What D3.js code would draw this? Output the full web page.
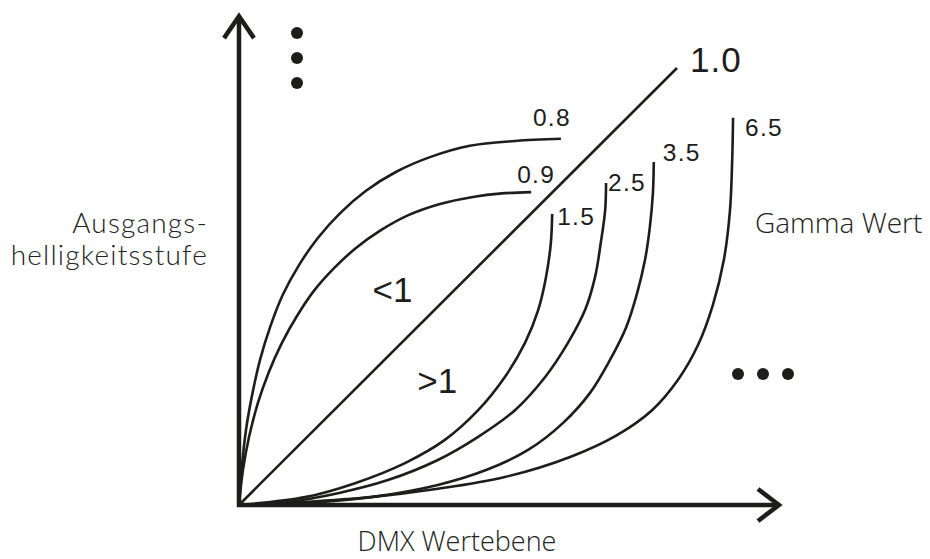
<!DOCTYPE html>
<html>
<head>
<meta charset="utf-8">
<script src="https://cdn.jsdelivr.net/npm/d3@7/dist/d3.min.js"></script>
<style>
  html, body { margin: 0; padding: 0; background: #fff; }
  svg { display: block; }
</style>
</head>
<body>
<svg id="chart" width="930" height="559"></svg>
<script>
// ---------- data (x: DMX level in %, y: output brightness in %) ----------
const gammaLabels = ["0.8", "0.9", "1.0", "1.5", "2.5", "3.5", "6.5"];

const curve08 = [[0,0],[0.7,9.2],[1.6,17.2],[3.0,25.2],[4.8,33.2],[7.1,40.7],[10.0,48.1],[13.7,54.9],[18.0,61.1],[23.1,66.8],[29.0,71.9],[35.8,76.2],[43.6,79.6],[52.7,82.2],[63.0,83.3],[73.5,83.8]];
const curve09 = [[0,0],[0.9,8.0],[2.3,15.6],[4.3,23.3],[6.8,30.4],[9.8,37.1],[13.2,43.2],[17.1,49.0],[21.7,54.2],[26.7,58.8],[32.4,62.9],[38.8,66.4],[45.9,68.9],[53.4,70.5],[60.0,71.3],[66.7,71.6]];
const curve10 = [[0,0],[100,100]];
const curve15 = [[0,0],[15.1,1.8],[26.5,5.0],[37.9,9.6],[47.0,14.9],[54.6,21.7],[60.7,29.3],[65.3,37.1],[68.3,44.6],[70.1,52.2],[71.2,60.0],[71.5,66.6]];
const curve25 = [[0,0],[11.2,0.7],[22.6,2.7],[34.0,5.7],[45.4,10.3],[54.6,15.6],[63.0,21.7],[69.9,29.3],[75.1,37.1],[79.0,44.6],[81.3,52.2],[82.6,60.0],[83.6,67.5],[83.8,73.7]];
const curve35 = [[0,0],[15.1,0.5],[30.1,1.8],[45.4,4.6],[56.4,8.0],[66.0,12.6],[74.0,18.8],[80.1,25.6],[84.7,33.2],[88.4,40.7],[90.9,48.5],[92.7,56.1],[93.8,63.6],[94.5,71.4],[94.7,78.5]];
const curve65 = [[0,0],[15.1,0.7],[30.1,1.8],[45.4,3.7],[60.7,6.4],[75.6,11.0],[86.3,16.0],[94.3,21.7],[100.2,28.6],[104.8,36.6],[108.2,45.8],[110.7,56.1],[112.1,67.5],[112.6,78.9],[112.8,88.6]];

const curves = [curve08, curve09, curve10, curve15, curve25, curve35, curve65];

const regionLabels = ["<1", ">1"];
const axisTitleX = "DMX Wertebene";
const axisTitleY = ["Ausgangs-", "helligkeitsstufe"];
const legendTitle = "Gamma Wert";

// ---------- layout ----------
const ink = "#1d1d1b";
const svg = d3.select("#chart");

const x = d3.scaleLinear().domain([0, 100]).range([239, 677]);
const y = d3.scaleLinear().domain([0, 100]).range([505, 68]);
const xMax = 123.5, yMax = 112.1;

// label offsets relative to curve end (pixels)
const labelOffsets = [[-28,-13],[-14,-9],[13,4],[5,11],[2,8],[9,-1],[12,18]];

// ---------- curves ----------
const line = d3.line().x(d => x(d[0])).y(d => y(d[1])).curve(d3.curveCatmullRom.alpha(0.5));

svg.append("g").selectAll("path")
  .data(curves)
  .join("path")
  .attr("d", d => line(d))
  .attr("fill", "none")
  .attr("stroke", ink)
  .attr("stroke-width", 2.6);

// ---------- axes ----------
svg.append("path")
  .attr("d", `M${x(0)},${y(yMax) + 2} L${x(0)},${y(0)} L${x(xMax) - 2},${y(0)}`)
  .attr("fill", "none").attr("stroke", ink).attr("stroke-width", 4.5)
  .attr("stroke-linejoin", "miter");

const tipY = [x(0), y(yMax)];
svg.append("path")
  .attr("d", `M${tipY[0] - 15},${tipY[1] + 23} L${tipY[0]},${tipY[1] + 1} L${tipY[0] + 15},${tipY[1] + 23}`)
  .attr("fill", "none").attr("stroke", ink).attr("stroke-width", 4.5).attr("stroke-linejoin", "miter");

const tipX = [x(xMax), y(0)];
svg.append("path")
  .attr("d", `M${tipX[0] - 22},${tipX[1] - 16} L${tipX[0] - 1},${tipX[1]} L${tipX[0] - 22},${tipX[1] + 16}`)
  .attr("fill", "none").attr("stroke", ink).attr("stroke-width", 4.5).attr("stroke-linejoin", "miter");

// ---------- gamma labels ----------
svg.append("g").selectAll("text")
  .data(gammaLabels)
  .join("text")
  .attr("x", (d, i) => x(curves[i][curves[i].length - 1][0]) + labelOffsets[i][0])
  .attr("y", (d, i) => y(curves[i][curves[i].length - 1][1]) + labelOffsets[i][1])
  .attr("font-family", "'Liberation Sans', Arial, sans-serif")
  .attr("font-size", d => d === "1.0" ? 35 : 24.5)
  .attr("letter-spacing", d => d === "1.0" ? 1 : 1.3)
  .attr("fill", ink)
  .text(d => d);

// ---------- region labels ----------
const regionPos = [[30.5, 46.4], [40.7, 25.6]];
svg.append("g").selectAll("text")
  .data(regionLabels)
  .join("text")
  .attr("x", (d, i) => x(regionPos[i][0]))
  .attr("y", (d, i) => y(regionPos[i][1]))
  .attr("font-family", "'Liberation Sans', Arial, sans-serif")
  .attr("font-size", 35)
  .attr("fill", ink)
  .text(d => d);

// ---------- continuation dots ----------
const dotsV = [0, 1, 2];
svg.append("g").selectAll("circle")
  .data(dotsV).join("circle")
  .attr("cx", 297).attr("cy", d => 33 + d * 25).attr("r", 6).attr("fill", ink);
svg.append("g").selectAll("circle")
  .data(dotsV).join("circle")
  .attr("cx", d => 738 + d * 25).attr("cy", 374).attr("r", 6).attr("fill", ink);

// ---------- titles ----------
svg.append("text")
  .attr("x", 457).attr("y", 551)
  .attr("text-anchor", "middle")
  .attr("font-family", "'Open Sans', sans-serif").attr("font-weight", 300)
  .attr("font-size", 27).attr("fill", "#222")
  .text(axisTitleX);

svg.append("text")
  .attr("x", 755).attr("y", 233)
  .attr("font-family", "'Open Sans', sans-serif").attr("font-weight", 300)
  .attr("font-size", 28).attr("fill", "#222")
  .text(legendTitle);

svg.append("g").selectAll("text")
  .data(axisTitleY).join("text")
  .attr("x", 208).attr("y", (d, i) => 233 + i * 32)
  .attr("text-anchor", "end")
  .attr("font-family", "Lato, 'Open Sans', sans-serif").attr("font-weight", 300)
  .attr("font-size", 28).attr("letter-spacing", 1.2).attr("fill", "#222")
  .text(d => d);
</script>
</body>
</html>
